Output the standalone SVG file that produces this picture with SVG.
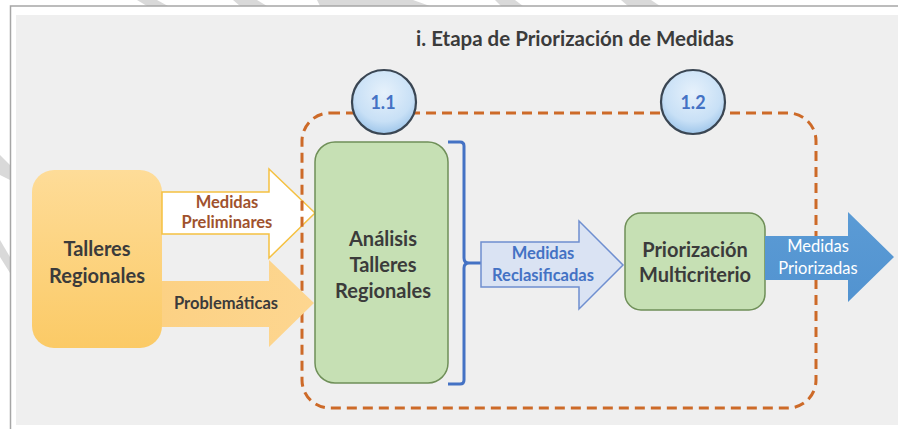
<svg xmlns="http://www.w3.org/2000/svg" width="898" height="429" viewBox="0 0 898 429">
<defs>
<linearGradient id="gOrange" x1="0" y1="0" x2="0" y2="1">
<stop offset="0" stop-color="#fedc98"/>
<stop offset="1" stop-color="#fbca66"/>
</linearGradient>
<linearGradient id="gProb" x1="0" y1="0" x2="1" y2="0">
<stop offset="0" stop-color="#fcd184"/>
<stop offset="1" stop-color="#fdd690"/>
</linearGradient>
<radialGradient id="gCircle" cx="0.5" cy="0.35" r="0.65">
<stop offset="0" stop-color="#e6f1fb"/>
<stop offset="0.7" stop-color="#c8e0f6"/>
<stop offset="1" stop-color="#9fc6ea"/>
</radialGradient>
<linearGradient id="gBlue" x1="0" y1="0" x2="0" y2="1">
<stop offset="0" stop-color="#5b9bd5"/>
<stop offset="1" stop-color="#5293d0"/>
</linearGradient>
<style>
.t{font-family:Lato,"Liberation Sans",sans-serif;font-weight:bold;text-anchor:middle}
.dark{fill:#3b3b3b}
.box{font-size:20px}
.lbl{font-size:16.5px}
.green{fill:#c6e0b4;stroke:#6f8f58;stroke-width:1.5}
.circ{fill:url(#gCircle);stroke:#3a4653;stroke-width:2.2}
.num{font-size:18px;fill:#4472c4}
.wl{font-family:Lato,"Liberation Sans",sans-serif;font-size:16.5px;fill:#ffffff;text-anchor:middle}
</style>
</defs>
<g id="background">
<rect x="0" y="0" width="898" height="429" fill="#ffffff"/>
<g fill="#d9d9d9">
<polygon points="137,0 157,0 168,6 147,6"/>
<polygon points="233,0 257,0 267,6 240,6"/>
<polygon points="317,0 413,0 430,6 320,6"/>
<polygon points="495,0 515,0 523,6 501,6"/>
<polygon points="621,0 651,0 660,6 628,6"/>
<polygon points="0,155 0,175 10,180 10,165"/>
<polygon points="0,240 0,257 10,273 10,257"/>
</g>
<path d="M898,6 H10.5 V429" fill="none" stroke="#a6a6a6" stroke-width="1.5"/>
<rect x="16" y="15" width="882" height="410" fill="#efefef"/>
</g>
<text id="title" class="t dark" x="575" y="46" font-size="20.5">i. Etapa de Priorización de Medidas</text>
<g id="node-talleres">
<rect x="32" y="170" width="130" height="178" rx="22" fill="url(#gOrange)"/>
<text class="t dark box" x="97" y="256">Talleres</text>
<text class="t dark box" x="97" y="283">Regionales</text>
</g>
<g id="connectors">
<g id="arrow-preliminares">
<polygon points="162,192 269,192 269,169 315,213 269,258 269,234 162,234" fill="#ffffff" stroke="#f5c142" stroke-width="1.5"/>
<text class="t lbl" x="227" y="208" fill="#a0522d">Medidas</text>
<text class="t lbl" x="227" y="228" fill="#a0522d">Preliminares</text>
</g>
</g>
<g id="group-etapa">
<rect x="302" y="113" width="514" height="295" rx="28" fill="none" stroke="#cd6a28" stroke-width="3" stroke-dasharray="10 6"/>
</g>
<g id="connectors2">
<g id="arrow-problematicas">
<polygon points="162,281 269,281 269,260 314,303 269,347 269,327 162,327" fill="url(#gProb)"/>
<text class="t dark lbl" x="226" y="309">Problemáticas</text>
</g>
</g>
<g id="node-analisis">
<rect class="green" x="315" y="142" width="133" height="241" rx="20"/>
<text class="t dark box" x="383" y="246">Análisis</text>
<text class="t dark box" x="383" y="272">Talleres</text>
<text class="t dark box" x="383" y="298">Regionales</text>
</g>
<g id="connectors3">
<path id="bracket" d="M448,142 H460 Q464,142 464,146 V258 Q464,263 469,263 H481 M469,263 Q464,263 464,268 V380 Q464,384 460,384 H448" fill="none" stroke="#4472c4" stroke-width="3"/>
<g id="arrow-reclasificadas">
<polygon points="481,242 579,242 579,221 623,265 579,309 579,287 481,287" fill="#dae3f3" stroke="#6f8fd0" stroke-width="1.5"/>
<text class="t lbl" x="543" y="259" fill="#4472c4">Medidas</text>
<text class="t lbl" x="543" y="281" fill="#4472c4">Reclasificadas</text>
</g>
</g>
<g id="node-priorizacion">
<rect class="green" x="625" y="213" width="140" height="97" rx="16"/>
<text class="t dark box" x="695" y="257">Priorización</text>
<text class="t dark box" x="695" y="282">Multicriterio</text>
</g>
<g id="connectors4">
<g id="arrow-priorizadas">
<polygon points="765,236 848,236 848,212 894,257 848,302 848,280 765,280" fill="url(#gBlue)"/>
<text class="wl" x="818" y="252">Medidas</text>
<text class="wl" x="818" y="274">Priorizadas</text>
</g>
</g>
<g id="node-1-1">
<circle class="circ" cx="384" cy="102" r="32"/>
<text class="t num" x="383" y="109">1.1</text>
</g>
<g id="node-1-2">
<circle class="circ" cx="693" cy="102" r="32"/>
<text class="t num" x="693" y="109">1.2</text>
</g>
</svg>
